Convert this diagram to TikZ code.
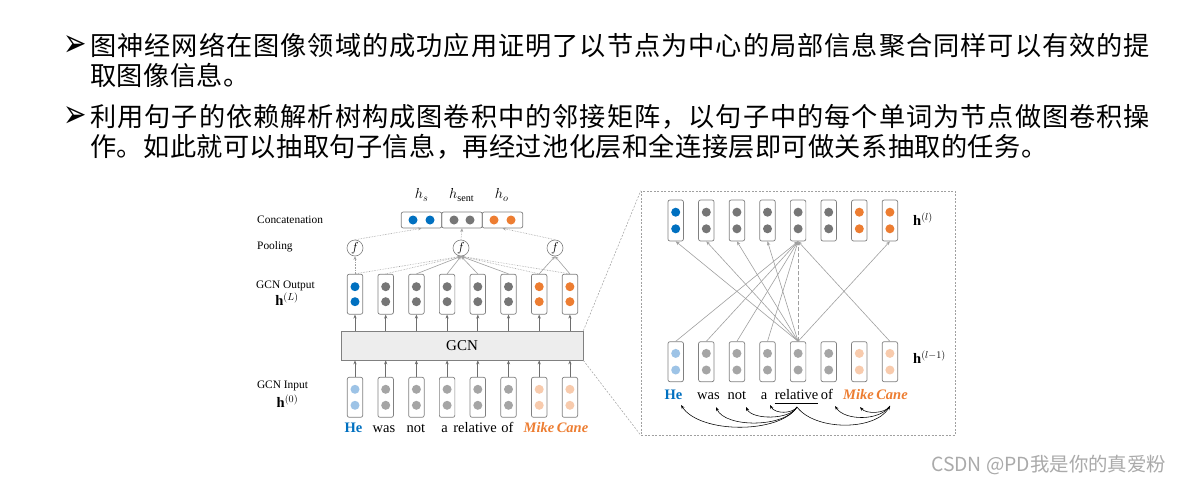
\RequirePackage{fix-cm}
\documentclass[tikz,border=0pt]{standalone}
\usepackage{graphicx}
\usepackage{fontspec}
\setmainfont{Liberation Serif}
\newfontfamily\cjk{Noto Sans CJK SC}
\newfontfamily\cjkn[LetterSpace=1.5]{Noto Sans CJK SC}
\newfontfamily\cjkw[LetterSpace=3.8]{Noto Sans CJK SC}
\newfontfamily\dejavu{DejaVu Sans}
\usetikzlibrary{arrows.meta}
\definecolor{blueD}{RGB}{0,112,192}
\definecolor{orangeD}{RGB}{237,125,49}
\definecolor{grayD}{RGB}{118,118,118}
\definecolor{blueL}{RGB}{157,195,230}
\definecolor{orangeL}{RGB}{248,203,173}
\definecolor{grayL}{RGB}{165,165,165}
\definecolor{boxline}{RGB}{128,128,128}
\definecolor{arrgray}{RGB}{110,110,110}
\definecolor{lgray}{RGB}{160,160,160}
\definecolor{wmgray}{RGB}{170,170,170}
\begin{document}
\begin{tikzpicture}[x=1pt,y=-1pt,
  colbox/.style={draw=boxline, line width=0.7pt, rounded corners=2pt, minimum width=15.5pt, minimum height=40pt, inner sep=0pt},
  catbox/.style={draw=boxline, line width=0.7pt, rounded corners=2pt, minimum width=40.5pt, minimum height=16pt, inner sep=0pt},
  fnode/.style={draw=boxline, circle, line width=0.6pt, minimum size=16pt, inner sep=0pt, font=\fontsize{13}{13}\selectfont},
  gcnbox/.style={draw=boxline, fill=black!7, line width=0.7pt, minimum width=242pt, minimum height=29pt, inner sep=0pt, font=\fontsize{15}{15}\selectfont},
  arr/.style={-{Stealth[length=4pt,width=3.2pt]}, draw=arrgray, line width=0.7pt},
  pool/.style={-{Stealth[length=3.5pt,width=3pt]}, draw=lgray, line width=0.6pt},
  pooldot/.style={pool, densely dotted},
  graph/.style={-{Stealth[length=4pt,width=3.2pt]}, draw=lgray, line width=0.6pt},
  dep/.style={-{Stealth[length=4pt,width=3pt]}, draw=black, line width=0.55pt},
  zoomline/.style={draw=lgray, line width=0.5pt, dash pattern=on 2pt off 1.5pt},
  lab/.style={inner sep=0pt, font=\fontsize{11.4}{12}\selectfont},
  word/.style={inner sep=0pt, anchor=base, font=\fontsize{14.5}{16}\selectfont},
  hlab/.style={inner sep=0pt, font=\fontsize{14.5}{15}\selectfont},
  cjkline/.style={inner sep=0pt, anchor=base west, font=\fontsize{26.2}{30}\selectfont},
  bul/.style={inner sep=0pt, font=\dejavu\fontsize{28}{28}\selectfont}
]
\useasboundingbox (0,0) rectangle (1181,493);
\fill[white] (0,0) rectangle (1181,493);

% ---------- bullet text ----------
\node[bul] (b1) at (75.5,46.5) {\scalebox{1}[1.4]{➢}};
\node[cjkline] (t1) at (90.2,55) {\cjkw 图神经网络在图像领域的成功应用证明了以节点为中心的局部信息聚合同样可以有效的提};
\node[cjkline] (t2) at (90.2,85.5) {\cjkn 取图像信息。};
\node[bul] (b2) at (75.5,117) {\scalebox{1}[1.4]{➢}};
\node[cjkline] (t3) at (90.2,126) {\cjkw 利用句子的依赖解析树构成图卷积中的邻接矩阵，以句子中的每个单词为节点做图卷积操};
\node[cjkline] (t4) at (90.2,156) {\cjkn 作。如此就可以抽取句子信息，再经过池化层和全连接层即可做关系抽取的任务。};

% ---------- left diagram ----------
\node[lab, anchor=west] (lcat) at (257,220) {Concatenation};
\node[lab, anchor=west] (lpool) at (257,247) {Pooling};
\node[lab] (lout) at (285.5,286) {GCN Output};
\node[hlab] (lhL) at (287,299) {$\mathbf{h}^{(L)}$};
\node[lab] (lin) at (282.5,386) {GCN Input};
\node[hlab] (lh0) at (287.5,401) {$\mathbf{h}^{(0)}$};

\node[hlab] (hs) at (421.7,195) {$h_s$};
\node[hlab] (hsent) at (461.7,195) {$h_{\mathrm{sent}}$};
\node[hlab] (ho) at (501.7,195) {$h_o$};

\node[catbox] (c1) at (421.5,220) {};
\node[catbox] (c2) at (462,220) {};
\node[catbox] (c3) at (502.5,220) {};
\fill[blueD] (413,220) circle (4.5) (430,220) circle (4.5);
\fill[grayD] (454,220) circle (4.5) (470,220) circle (4.5);
\fill[orangeD] (494,220) circle (4.5) (511,220) circle (4.5);

\node[fnode] (f1) at (355,248) {$f$};
\node[fnode] (f2) at (461,248) {$f$};
\node[fnode] (f3) at (555,248) {$f$};

\node[gcnbox] (gcn) at (462,345.5) {GCN};

\foreach \i/\c/\cl in {1/blueD/blueL,2/grayD/grayL,3/grayD/grayL,4/grayD/grayL,5/grayD/grayL,6/grayD/grayL,7/orangeD/orangeL,8/orangeD/orangeL}{
  \pgfmathsetmacro{\xx}{355+30.7*(\i-1)}
  \node[colbox] (o\i) at (\xx,294.2) {};
  \fill[\c] (\xx,286.7) circle (4.5) (\xx,301.7) circle (4.5);
  \node[colbox] (in\i) at (\xx,397.3) {};
  \fill[\cl] (\xx,389.3) circle (4.5) (\xx,405.3) circle (4.5);
  \draw[arr] (gcn.north -| o\i.south) -- (o\i.south);
  \draw[arr] (in\i.north) -- (gcn.south -| in\i.north);
  \pgfmathsetmacro{\rx}{675.7+30.6*(\i-1)}
  \node[colbox, minimum height=41pt] (T\i) at (\rx,220.5) {};
  \fill[\c] (\rx,212.2) circle (4.5) (\rx,228.8) circle (4.5);
  \node[colbox] (B\i) at (\rx,361.7) {};
  \fill[\cl] (\rx,353.4) circle (4.5) (\rx,370) circle (4.5);
}

% pooling connections
\draw[pooldot] (o1.north) -- (f1.south);
\foreach \i in {1,2,7,8}{ \draw[pooldot] (o\i.north) -- (f2.south); }
\foreach \i in {3,4,5,6}{ \draw[pool] (o\i.north) -- (f2.south); }
\draw[pool] (o7.north) -- (f3.south);
\draw[pool] (o8.north) -- (f3.south);
\draw[pooldot] (f1.north) -- (c1.south);
\draw[pooldot] (f2.north) -- (c2.south);
\draw[pooldot] (f3.north) -- (c3.south);

% words left
\node[word, text=blueD, font=\fontsize{14.5}{16}\selectfont\bfseries] (wHe) at (353.5,432.5) {He};
\node[word] (wwas) at (384,432.5) {was};
\node[word] (wnot) at (416,432.5) {not};
\node[word] (wa) at (444.5,432.5) {a};
\node[word] (wrel) at (475,432.5) {relative};
\node[word] (wof) at (507.5,432.5) {of};
\node[word, text=orangeD, font=\fontsize{14.5}{16}\selectfont\bfseries\itshape] (wMike) at (539,432.5) {Mike};
\node[word, text=orangeD, font=\fontsize{14.5}{16}\selectfont\bfseries\itshape] (wCane) at (572.5,432.5) {Cane};

% ---------- right panel ----------
\node[draw=lgray, line width=0.5pt, dash pattern=on 2pt off 1.5pt, minimum width=314pt, minimum height=244pt, inner sep=0pt] (panel) at (798,313) {};
\draw[zoomline] (gcn.north east) -- (panel.north west);
\draw[zoomline] (gcn.south east) -- (panel.south west);

\node[hlab, anchor=west] (hl) at (913,219) {$\mathbf{h}^{(l)}$};
\node[hlab, anchor=west] (hl1) at (913,357) {$\mathbf{h}^{(l-1)}$};

\foreach \j in {1,2,3,4,8}{
  \draw[graph] (B5.north) -- (T\j.south);
  \draw[graph] (B\j.north) -- (T5.south);
}
\draw[graph, dash pattern=on 4pt off 2pt] (B5.north) -- (T5.south);

% words right
\node[word, text=blueD, font=\fontsize{14.5}{16}\selectfont\bfseries] (rHe) at (673.5,399.5) {He};
\node[word] (rwas) at (708.5,399.5) {was};
\node[word] (rnot) at (737,399.5) {not};
\node[word] (ra) at (764,399.5) {a};
\node[word] (rrel) at (796.5,399.5) {relative};
\node[word] (rof) at (827,399.5) {of};
\node[word, text=orangeD, font=\fontsize{14.5}{16}\selectfont\bfseries\itshape] (rMike) at (858.5,399.5) {Mike};
\node[word, text=orangeD, font=\fontsize{14.5}{16}\selectfont\bfseries\itshape] (rCane) at (892,399.5) {Cane};
\draw[line width=0.8pt] (rrel.south west) ++(0,4) coordinate (ul1) -- (rrel.south east |- ul1);

% dependency arcs
\coordinate (dR) at (797,407);
\coordinate (dHe) at (681,405);
\coordinate (dwas) at (716,407);
\coordinate (dnot) at (746,407);
\coordinate (da) at (770,405);
\coordinate (dof) at (835,406);
\coordinate (dMike) at (860,407);
\coordinate (dCane) at (890,406);
\draw[dep] (dR) .. controls (780,434) and (700,434) .. (dHe);
\draw[dep] (dR) .. controls (785,428) and (725,428) .. (dwas);
\draw[dep] (dR) .. controls (790,420) and (752,420) .. (dnot);
\draw[dep] (dR) .. controls (792,414) and (775,414) .. (da);
\draw[dep] (dR) .. controls (815,431) and (875,431) .. (dCane);
\draw[dep] (dCane) .. controls (880,421) and (845,421) .. (dof);
\draw[dep] (dCane) .. controls (885,414) and (866,414) .. (dMike);

% watermark
\node[inner sep=0pt, anchor=west, text=wmgray, font=\cjk\fontsize{19.4}{20}\selectfont] (wm) at (931,465) {CSDN @PD我是你的真爱粉};
\end{tikzpicture}
\end{document}
